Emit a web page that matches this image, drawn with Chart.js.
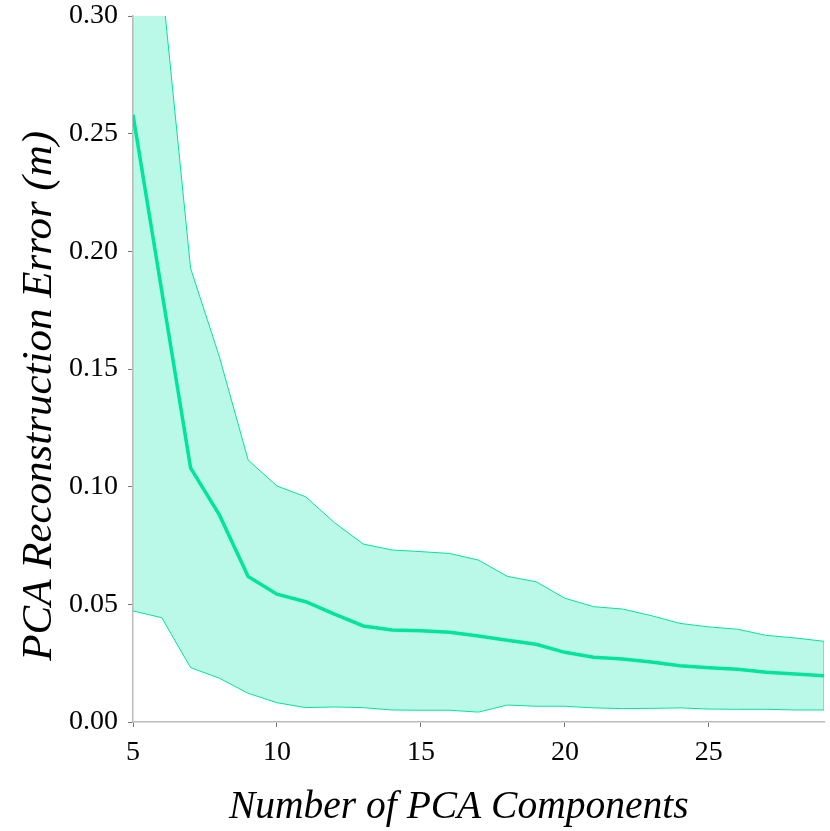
<!DOCTYPE html>
<html>
<head>
<meta charset="utf-8">
<script src="https://cdn.jsdelivr.net/npm/chart.js@4.4.0/dist/chart.umd.min.js"></script>
<style>
  html, body { margin: 0; padding: 0; background: #fff; }
  #wrap { width: 830px; height: 831px; }
</style>
</head>
<body>
<div id="wrap"><canvas id="pcaChart"></canvas></div>
<script>
// number of PCA components on the x axis
var components = [5, 6, 7, 8, 9, 10, 11, 12, 13, 14, 15, 16, 17, 18, 19, 20, 21, 22, 23, 24, 25, 26, 27, 28, 29];
// mean reconstruction error (m)
var meanErr = [0.258, 0.183, 0.108, 0.088, 0.0618, 0.0543, 0.0511, 0.0458, 0.0408, 0.0391, 0.0388, 0.0381, 0.0365,
    0.0347, 0.033, 0.0296, 0.0275, 0.0268, 0.0255, 0.0239, 0.0231, 0.0224, 0.0211, 0.0204, 0.0197];
// upper and lower edge of the band
var upperErr = [0.468, 0.315, 0.1928, 0.1552, 0.1113, 0.1003, 0.0957, 0.0847, 0.0756, 0.0731, 0.0724, 0.0716, 0.0688,
    0.0619, 0.0596, 0.0526, 0.049, 0.048, 0.0452, 0.0419, 0.0404, 0.0394, 0.0368, 0.0357, 0.0343];
var lowerErr = [0.0472, 0.0443, 0.0231, 0.0186, 0.0122, 0.0082, 0.0061, 0.0064, 0.0061, 0.0051, 0.005, 0.005, 0.0042,
    0.0072, 0.0067, 0.0067, 0.006, 0.0057, 0.0058, 0.006, 0.0055, 0.0054, 0.0054, 0.0051, 0.0051];
var yTicks = [0, 0.05, 0.10, 0.15, 0.20, 0.25, 0.30];
var xTicks = [5, 10, 15, 20, 25];

var lineColor = '#00e59a';
var bandColor = 'rgba(0, 229, 166, 0.27)';

function pts(ys) {
    return components.map(function (c, i) { return { x: c, y: ys[i] }; });
}

var last = components.length - 1;
var data = {
    datasets: [
        {
            label: 'lower',
            data: pts(lowerErr),
            borderColor: lineColor,
            borderWidth: 1,
            pointRadius: 0,
            fill: false,
            order: 3
        },
        {
            label: 'upper',
            data: pts(upperErr),
            borderColor: lineColor,
            borderWidth: 1,
            backgroundColor: bandColor,
            pointRadius: 0,
            fill: 0,
            order: 2
        },
        {
            label: 'edge',
            data: [{ x: components[last], y: lowerErr[last] }, { x: components[last], y: upperErr[last] }],
            borderColor: lineColor,
            borderWidth: 1,
            pointRadius: 0,
            fill: false,
            order: 2
        },
        {
            label: 'mean',
            data: pts(meanErr),
            borderColor: lineColor,
            borderWidth: 3.5,
            pointRadius: 0,
            fill: false,
            order: 1
        }
    ]
};

var serif = '"Liberation Serif", "Times New Roman", serif';
var tickFont = { family: serif, size: 28 };

var options = {
    responsive: false,
    animation: false,
    layout: { padding: { top: 16, right: 6, left: 0, bottom: 0 } },
    plugins: {
        legend: { display: false },
        tooltip: { enabled: false }
    },
    scales: {
        x: {
            type: 'linear',
            min: 5,
            max: 29,
            afterBuildTicks: function (s) { s.ticks = xTicks.map(function (v) { return { value: v }; }); },
            afterFit: function (s) { s.height = 109; s.paddingLeft = 0; s.paddingRight = 0; },
            grid: { drawOnChartArea: false, color: '#777', tickLength: 5 },
            border: { color: '#bbb', width: 1.5 },
            ticks: { color: '#000', font: tickFont, padding: 9, maxRotation: 0 },
            title: {
                display: true, text: 'Number of PCA Components    ', color: '#000',
                font: { family: serif, size: 39.5, style: 'italic' }, padding: { top: 0, bottom: 0 }
            }
        },
        y: {
            min: 0,
            max: 0.30,
            afterBuildTicks: function (s) { s.ticks = yTicks.map(function (v) { return { value: v }; }); },
            afterFit: function (s) { s.width = 133; s.paddingTop = 0; s.paddingBottom = 0; },
            grid: { drawOnChartArea: false, color: '#777', tickLength: 5 },
            border: { color: '#bbb', width: 1.5 },
            ticks: {
                color: '#000', font: tickFont, padding: 10,
                callback: function (v) { return v.toFixed(2); }
            },
            title: {
                display: true, text: 'PCA Reconstruction Error (m)     ', color: '#000',
                font: { family: serif, size: 43, style: 'italic' }, padding: { top: 14, bottom: 0 }
            }
        }
    }
};

var canvas = document.getElementById('pcaChart');
canvas.width = 830;
canvas.height = 831;
new Chart(canvas, { type: 'line', data: data, options: options });
</script>
</body>
</html>
